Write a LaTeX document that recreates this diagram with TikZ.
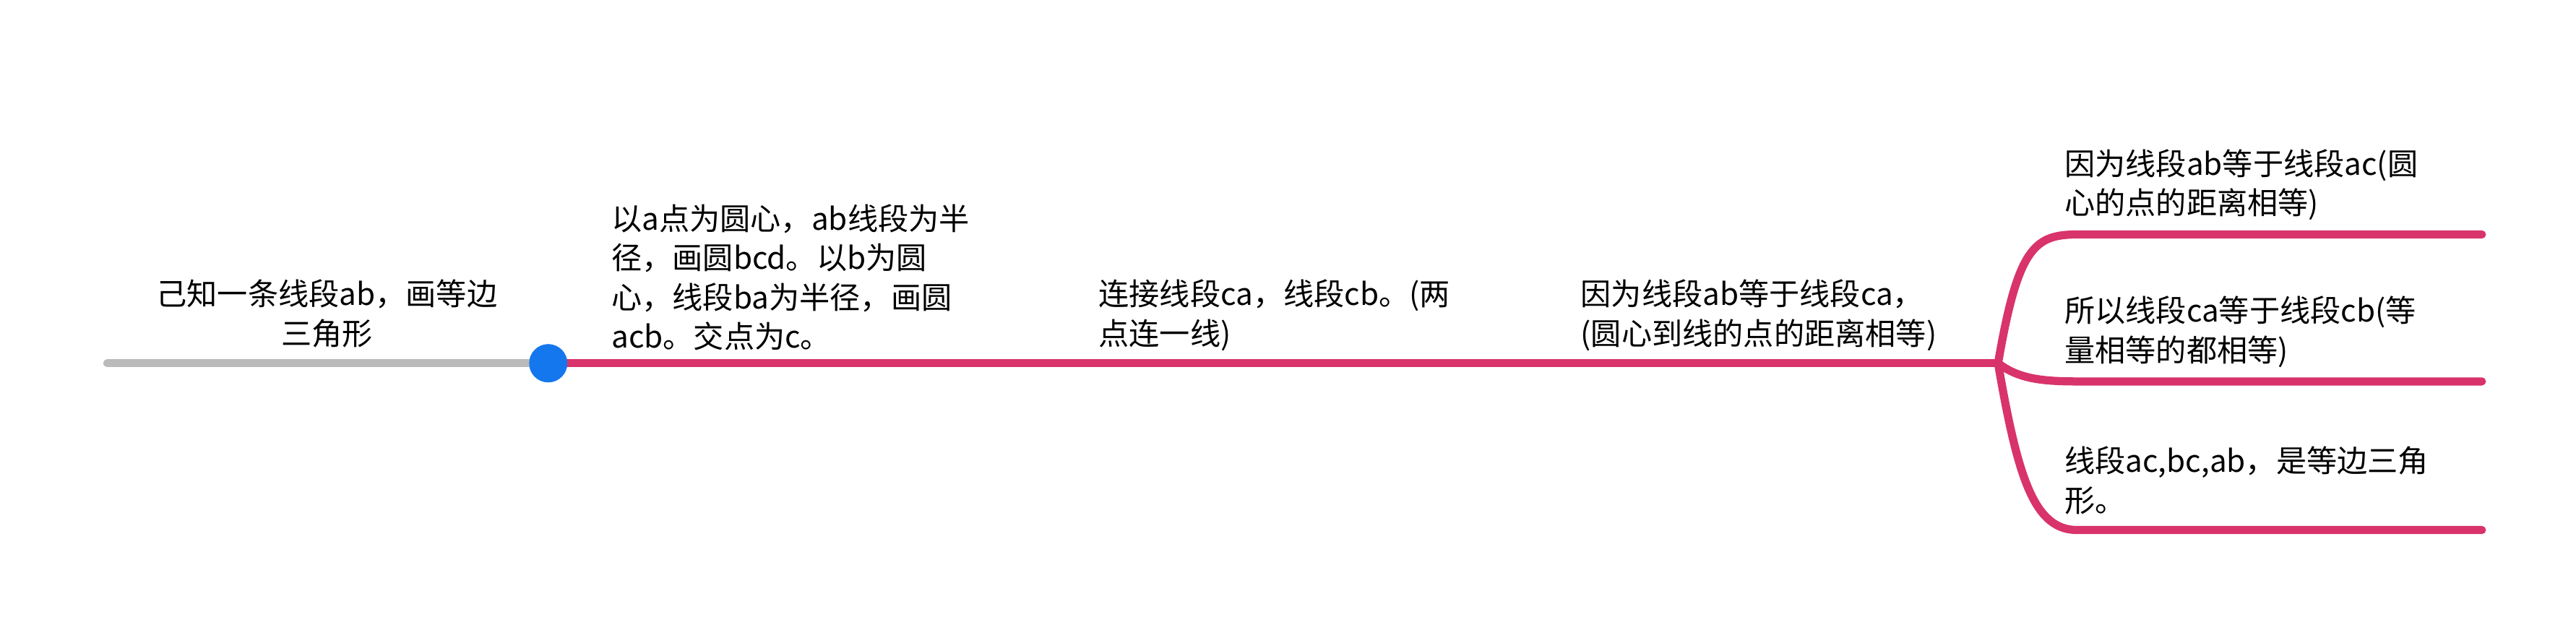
\documentclass[tikz,border=0pt]{standalone}
\usepackage{fontspec}
\setmainfont{Noto Sans CJK SC}
\usepackage{tikz}
\usetikzlibrary{calc}
\definecolor{pinkline}{HTML}{D9336B}
\definecolor{greyline}{HTML}{BBBBBB}
\definecolor{bluedot}{HTML}{1577EE}
\tikzset{
  topic/.style={align=left,anchor=west,inner sep=0pt,font=\fontsize{12}{15.5}\selectfont},
  branch/.style={pinkline,line width=3.2pt,line cap=round}
}
\begin{document}
\begin{tikzpicture}[x=0.02285cm,y=-0.02285cm]
        \useasboundingbox (0,0) rectangle (1560,386);
        % Main line
        \coordinate (start) at (65,220);
        \coordinate (hub) at (1210,220);
        \coordinate (endA) at (1503,142);
        \coordinate (endB) at (1503,231);
        \coordinate (endC) at (1503,321);
        \node[circle,fill=bluedot,inner sep=0pt,minimum size=15pt] (dot) at (332,220) {};
        \draw [greyline,line width=3.2pt,line cap=round] (start) -- (dot.center);
        \draw [branch] (dot.center) -- (hub);
        % Branches to the right
        \draw [branch] (hub) .. controls (1222,150) and (1232,142) .. (1258,142) -- (endA);
        \draw [branch] (hub) .. controls (1222,229) and (1235,231) .. (1258,231) -- (endB);
        \draw [branch] (hub) .. controls (1222,290) and (1232,321) .. (1258,321) -- (endC);
        \node[circle,fill=bluedot,inner sep=0pt,minimum size=15pt] at (dot) {};
        % Texts
        \node [topic,anchor=center,align=center] (given) at (198,190) {己知一条线段ab，画等边\\三角形};
        \node [topic] (circles) at (370,168) {以a点为圆心，ab线段为半\\径，画圆bcd。以b为圆\\心，线段ba为半径，画圆\\acb。交点为c。};
        \node [topic] (connect) at (665,191) {连接线段ca，线段cb。(两\\点连一线)};
        \node [topic] (equal) at (957,191) {因为线段ab等于线段ca，\\(圆心到线的点的距离相等)};
        \node [topic] (stepA) at (1250,112) {因为线段ab等于线段ac(圆\\心的点的距离相等)};
        \node [topic] (stepB) at (1250,201) {所以线段ca等于线段cb(等\\量相等的都相等)};
        \node [topic] (stepC) at (1250,291) {线段ac,bc,ab，是等边三角\\形。};
\end{tikzpicture}
\end{document}
